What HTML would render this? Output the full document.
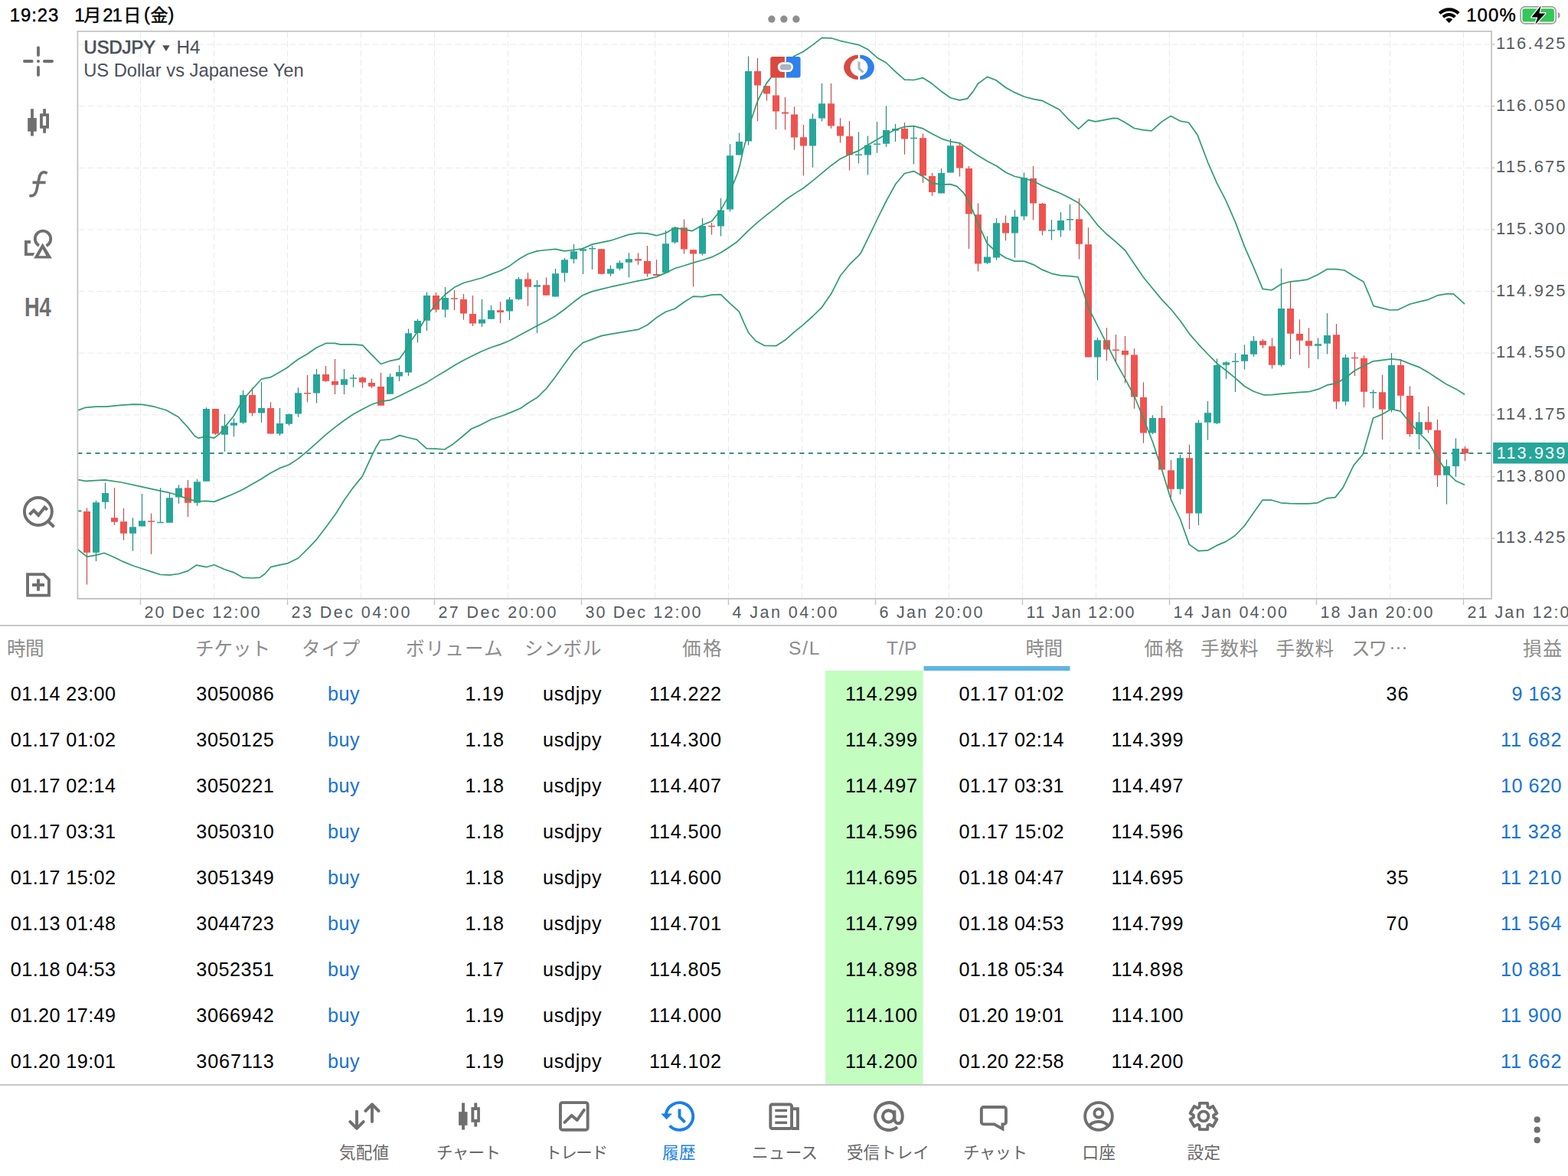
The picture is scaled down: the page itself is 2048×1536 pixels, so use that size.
<!DOCTYPE html><html><head><meta charset="utf-8"><title>MT5</title><style>
html,body{margin:0;padding:0;background:#fff}body{width:2048px;height:1536px;overflow:hidden}
svg{display:block}text{font-family:"Liberation Sans",sans-serif}
text.j{font-family:"Liberation Sans","Noto Sans CJK JP",sans-serif}
</style></head><body>
<svg width="2048" height="1536" viewBox="0 0 2048 1536">
<rect width="2048" height="1536" fill="#fff"/>
<clipPath id="cc"><rect x="101.4" y="40.9" width="1846.6999999999998" height="741.1"/></clipPath>
<g stroke="#e9e9e9" stroke-width="1" stroke-dasharray="8 4" fill="none">
<path d="M102.4 58H1948.1"/>
<path d="M102.4 138.7H1948.1"/>
<path d="M102.4 219.3H1948.1"/>
<path d="M102.4 300H1948.1"/>
<path d="M102.4 380.6H1948.1"/>
<path d="M102.4 461.2H1948.1"/>
<path d="M102.4 541.9H1948.1"/>
<path d="M102.4 622.6H1948.1"/>
<path d="M102.4 703.2H1948.1"/>
<path d="M183.5 41.9V782"/>
<path d="M279.5 41.9V782"/>
<path d="M375.5 41.9V782"/>
<path d="M471.5 41.9V782"/>
<path d="M567.5 41.9V782"/>
<path d="M663.5 41.9V782"/>
<path d="M759.5 41.9V782"/>
<path d="M855.5 41.9V782"/>
<path d="M951.5 41.9V782"/>
<path d="M1047.5 41.9V782"/>
<path d="M1143.5 41.9V782"/>
<path d="M1239.5 41.9V782"/>
<path d="M1335.5 41.9V782"/>
<path d="M1431.5 41.9V782"/>
<path d="M1527.5 41.9V782"/>
<path d="M1623.5 41.9V782"/>
<path d="M1719.5 41.9V782"/>
<path d="M1815.5 41.9V782"/>
<path d="M1911.5 41.9V782"/>
</g>
<g clip-path="url(#cc)">
<path d="M101.4 592H1948.1" stroke="#3a8f84" stroke-width="2" stroke-dasharray="6 5.5"/>
<path d="M125.5 653.8V733M137.5 630.8V664.6M173.5 676.3V719.8M185.5 645V687.6M209.5 637.2V683M221.5 643V682.7M233.5 633.3V657.7M257.5 626V660.7M269.5 532.3V628.8M293.5 541V589.8M305.5 546.4V570.2M317.5 509.7V553.8M341.5 499.1V551.9M365.5 533.1V568.9M377.5 540.2V555.8M389.5 506.2V544.7M413.5 481.9V526.6M449.5 482V514.9M461.5 489V505.7M509.5 488V514.8M521.5 477.2V498M533.5 429.4V490.9M545.5 416.7V447.6M557.5 381.6V432M581.5 375.1V414.8M629.5 391V426.9M641.5 398.8V416.7M665.5 388V418.1M677.5 362V391.9M701.5 365.9V434.9M725.5 350.9V387.4M737.5 337V367.9M749.5 319.1V343.9M761.5 323.4V358.1M773.5 321V351.9M797.5 346.4V360.7M809.5 340.2V352.9M821.5 330.2V362.6M869.5 301V356.2M881.5 295.9V318.3M917.5 285.1V333.4M941.5 259.1V308.6M953.5 188.2V276.5M965.5 173.4V202.5M977.5 73.6V189.4M1061.5 148.4V218.7M1073.5 108.9V158.5M1121.5 172.4V213.4M1133.5 177.5V228.5M1145.5 158.9V199.7M1157.5 138.2V191.7M1169.5 162V184.9M1193.5 165V214.4M1229.5 220.1V252.5M1241.5 181.3V225.5M1289.5 308.5V345M1301.5 285V339.7M1325.5 274.3V336.8M1337.5 225.5V287.4M1373.5 287V313.4M1385.5 277.2V309.5M1397.5 266.9V301.3M1433.5 441V496.7M1505.5 542.2V567M1541.5 594.1V646M1565.5 548.4V686M1577.5 524V574.8M1589.5 468.4V553.9M1601.5 471.9V495.1M1613.5 461.1V511.9M1625.5 450.2V482.4M1637.5 439.1V465.8M1673.5 350.7V478.7M1721.5 441.5V469.2M1733.5 409.3V462.5M1757.5 463V529.4M1793.5 508.9V533.3M1817.5 461.1V538.6M1853.5 538.2V587M1889.5 600.3V658.7M1901.5 572.4V622.8" stroke="#21897d" stroke-width="1.15" fill="none"/>
<path d="M113.5 663.6V763.6M149.5 637.2V685.7M161.5 664V705.6M197.5 670.4V723.8M245.5 626.9V674.9M281.5 534.1V567.9M329.5 506.4V543.5M353.5 525.3V566.5M401.5 490.1V525.2M425.5 477.9V498.7M437.5 469.1V515.1M473.5 492.1V506.5M485.5 494.6V506.8M497.5 486.7V529.7M569.5 382V407.9M593.5 379V405M605.5 384.1V417.7M617.5 386V426.1M653.5 394.3V422M689.5 356.2V399.7M713.5 362.6V385.7M785.5 325.3V358.5M833.5 330.4V345.8M845.5 321V361.6M857.5 339.2V360.1M893.5 286.5V331.4M905.5 326.3V374.4M929.5 291V306.6M989.5 76.1V158.2M1001.5 112.3V131.4M1013.5 101.5V168.9M1025.5 126.9V169.5M1037.5 139.2V195.7M1049.5 163V229.6M1085.5 108.9V167.8M1097.5 154.2V186.5M1109.5 158.1V222.6M1181.5 160.1V201.7M1205.5 174.4V238.8M1217.5 226.1V255.8M1253.5 187.3V230.4M1265.5 217.1V325.1M1277.5 265.5V354.4M1313.5 281.5V314.3M1349.5 217.1V287.6M1361.5 264.9V307.5M1409.5 259.1V338.4M1421.5 297.3V466.4M1445.5 428.3V471.3M1457.5 437.1V473.2M1469.5 439.1V500.6M1481.5 455.3V533.8M1493.5 499.2V578.7M1517.5 529.9V613.5M1529.5 601.1V649.8M1553.5 580.7V691M1649.5 443V454.7M1661.5 441.4V481.6M1685.5 368V469M1697.5 417.2V463.5M1709.5 428.3V480.7M1745.5 423V534.3M1769.5 460.1V490.9M1781.5 464.4V532.3M1805.5 489.4V574.3M1829.5 468.9V536.3M1841.5 504.4V570.4M1865.5 530.8V565.5M1877.5 548V635.9M1913.5 583.1V602.1" stroke="#c4484a" stroke-width="1.15" fill="none"/>
<path d="M205 682.5h9M457 493.9h9M769 324.8h9M1117 202.2h9M1141 188.2h9M1189 180.5h9M1369 301h9M1609 472.2h9M1789 512.7h9" stroke="#26a69a" stroke-width="1.5" fill="none"/>
<path d="M193 681h9M397 513.7h9M589 390h9M925 295.4h9M1453 457.2h9M1765 467.5h9" stroke="#ef5350" stroke-width="1.5" fill="none"/>
<path d="M121 656.2h9V721.8h-9zM133 644h9V655.8h-9zM169 688.2h9V696.8h-9zM181 680.2h9V687.6h-9zM217 650.3h9V682.7h-9zM229 637.4h9V649.5h-9zM253 629.2h9V656.8h-9zM265 534.1h9V628.8h-9zM289 556.2h9V567.7h-9zM301 552.3h9V555.8h-9zM313 516.1h9V551.9h-9zM337 532.9h9V539.6h-9zM361 553h9V566.5h-9zM373 541.1h9V553.8h-9zM385 513.2h9V540.6h-9zM409 489.1h9V513.6h-9zM445 495.2h9V502.7h-9zM505 492.2h9V514.8h-9zM517 486h9V491.6h-9zM529 435.3h9V486.6h-9zM541 419h9V434.9h-9zM553 386h9V418.7h-9zM577 389h9V404.6h-9zM625 417.3h9V422.6h-9zM637 405.2h9V416.7h-9zM661 391.3h9V406.6h-9zM673 364.4h9V390.7h-9zM697 372.2h9V374.7h-9zM721 357.3h9V387.4h-9zM733 339.2h9V356.6h-9zM745 328.2h9V338.6h-9zM757 325.3h9V327.7h-9zM793 351.3h9V357.5h-9zM805 343.3h9V350.7h-9zM817 338.2h9V342.7h-9zM865 318.3h9V356.2h-9zM877 297.3h9V316.5h-9zM913 294.9h9V331.4h-9zM937 274.4h9V295.5h-9zM949 203.2h9V273.5h-9zM961 185.1h9V202.5h-9zM973 93.1h9V184.5h-9zM1057 155.2h9V190.6h-9zM1069 135.3h9V154.6h-9zM1129 189.4h9V202.5h-9zM1153 170.1h9V187.8h-9zM1165 168.1h9V170.7h-9zM1225 226.1h9V252.5h-9zM1237 190.2h9V225.5h-9zM1285 335.4h9V343.6h-9zM1297 291.3h9V336.4h-9zM1321 283.1h9V304.6h-9zM1333 232.3h9V282.5h-9zM1381 288h9V300.7h-9zM1393 286h9V287.6h-9zM1429 444.3h9V466.4h-9zM1501 546.1h9V565.6h-9zM1537 598.2h9V638.7h-9zM1561 552.3h9V670.6h-9zM1573 539.3h9V551.8h-9zM1585 477.1h9V552.7h-9zM1597 473.2h9V476.8h-9zM1621 463.1h9V471.7h-9zM1633 445.3h9V462.7h-9zM1669 403h9V476.8h-9zM1717 449.2h9V451.8h-9zM1729 438.1h9V448.7h-9zM1753 467h9V524.6h-9zM1813 477.1h9V534.7h-9zM1849 551.3h9V566.9h-9zM1885 609.1h9V620.8h-9zM1897 586.1h9V608.9h-9z" fill="#26a69a"/>
<path d="M109 668h9V721.8h-9zM145 676.3h9V681.8h-9zM157 681.2h9V696.8h-9zM241 637.2h9V656.8h-9zM277 534.1h9V566.5h-9zM325 516.1h9V539.6h-9zM349 533.1h9V566.5h-9zM421 489.1h9V497.7h-9zM433 498.1h9V502.7h-9zM469 493.2h9V499.6h-9zM481 500h9V504.8h-9zM493 505h9V529.7h-9zM565 386h9V404.6h-9zM601 391.1h9V409.5h-9zM613 410.1h9V422.6h-9zM649 405.2h9V407.9h-9zM685 364.4h9V374.7h-9zM709 372.2h9V385.7h-9zM781 325.3h9V357.7h-9zM829 338.2h9V340.5h-9zM841 341.1h9V357.5h-9zM853 358.1h9V360.1h-9zM889 297.3h9V325.6h-9zM901 326.3h9V331.4h-9zM985 93.1h9V111.5h-9zM997 112.3h9V122.6h-9zM1009 124.4h9V145.5h-9zM1021 146.4h9V148.4h-9zM1033 149.4h9V179.6h-9zM1045 179.2h9V190.6h-9zM1081 135.3h9V164.5h-9zM1093 165.1h9V177.5h-9zM1105 178.1h9V202.5h-9zM1177 168.1h9V181.6h-9zM1201 180.2h9V229.5h-9zM1213 230h9V250.9h-9zM1249 190.2h9V219.6h-9zM1261 220.1h9V279.6h-9zM1273 280.2h9V344.6h-9zM1309 291.3h9V304.6h-9zM1345 232.9h9V265.5h-9zM1357 266.1h9V301.6h-9zM1405 286.2h9V318.8h-9zM1417 319.2h9V466.4h-9zM1441 444.3h9V456.6h-9zM1465 458h9V463.5h-9zM1477 463.5h9V518.6h-9zM1489 519.1h9V565.6h-9zM1513 546.1h9V613.5h-9zM1525 614.2h9V638.7h-9zM1549 598.2h9V670.6h-9zM1645 445.3h9V450.8h-9zM1657 452.2h9V476.8h-9zM1681 403h9V435.7h-9zM1693 436.1h9V444.7h-9zM1705 445.3h9V451.8h-9zM1741 437.2h9V524.6h-9zM1777 468h9V511.8h-9zM1801 512.2h9V534.7h-9zM1825 477.1h9V516.7h-9zM1837 517.1h9V566.9h-9zM1861 551.3h9V561.6h-9zM1873 562h9V620.8h-9zM1909 586.1h9V592.3h-9z" fill="#ef5350"/>
<path d="M101 667.5h5.5" stroke="#26a69a" stroke-width="2"/>
<path d="M100 536.6L111.7 532.3L125.4 531.2L139 531.2L158.6 529.2L174.2 528.2L186 528.4L201.6 531.2L217.2 535.7L232.8 544.5L244.5 557.1L254.3 569.5L259.2 572.2L269.5 570.2L279.7 572.2L287.5 565.9L293.4 558.1L305.1 543.5L317.4 522L329.5 508.3L341.4 495.2L353.5 492.7L365.4 485.9L375.4 480L380 476.3L389.5 469.3L401.5 462.3L413.5 454L425.5 448.4L437.5 448.4L444 449.8L461.5 449.8L473.5 450.9L485.5 463.4L497.5 475.5L509.5 471.3L521.5 468.9L528.4 459.5L533.5 449.9L545.4 433.3L557.5 412.8L569.5 397.2L581.6 384.5L593.5 375.3L605.6 369.5L617.5 366.3L629.4 363L641.5 358.1L653.4 353.8L665.5 347.4L677.5 338.6L689.6 331.8L701.5 327.9L713.6 326.5L725.5 325.3L737.4 327.9L749.5 326.5L761.4 324.5L773.6 319.1L785.5 316.7L797.6 314.2L809.5 310.3L821.4 306.4L833.5 304.4L845.4 304.8L857.5 307.7L869.5 304.4L881.5 297.4L893.6 299.8L904 301.7L917.4 293.9L929.5 289L941.4 274.4L948.8 261.3L953.5 250.2L958.2 239.1L963.4 226.2L966.4 215.6L970.5 196.9L974 184L977.5 169.9L981 157L989.5 131.8L1001.4 108.4L1008.4 99.6L1026 82L1037.5 73.2L1049.5 67.3L1061.6 58.6L1073.5 49.4L1085.6 49.8L1097.5 53.3L1109.4 56L1121.5 58.6L1133.4 64.4L1145.5 75.2L1157.5 82L1169.6 93.7L1181.5 104.1L1193.4 104.5L1205.5 101.7L1217.4 109.3L1220 111.6L1229.4 119.2L1241.4 127.7L1253.4 130.9L1263.4 128.9L1271.6 118.6L1277.4 109.2L1289.5 100.4L1300.9 104.8L1313.8 114.5L1325.5 120.9L1337.8 126.2L1349.5 129.4L1361.8 131.7L1373.5 137.9L1383.5 143L1395.8 156.1L1408.7 168.4L1421.6 156.7L1430.9 158.8L1442.7 156.7L1454.4 154.3L1460 154.7L1469.5 160L1481.4 167.5L1493.5 169.8L1504 170.8L1517.3 159.1L1529 151.6L1541.4 158.1L1552.5 160L1564.2 176.6L1577.5 211.8L1589.4 239.1L1601.5 262.6L1613.4 289.9L1625.5 322.1L1637.5 349.3L1649.2 377.4L1661 379L1673.5 371L1685.5 367.8L1697.3 366.6L1707.8 365.1L1720.7 358.9L1733.6 351.6L1745.3 351.6L1755.9 353L1768.8 361L1781 368L1787.5 383.3L1794 399.7L1805 402.3L1815.6 405L1826.2 404.6L1841.4 397.2L1853.6 394.1L1865.5 391.3L1877.4 385.9L1889.5 383.9L1898.3 383.9L1904 388.8L1913 397.2" stroke="#2e9e6e" stroke-width="1.7" fill="none" stroke-linejoin="round"/>
<path d="M100 626.1L111.7 628.4L137.1 626.9L158.6 630L185.5 635.9L209.4 641.1L221.5 643.7L233.4 647L245.5 651.9L257.4 654.8L269.5 654.4L279.7 655.4L293.4 649.9L305.1 645L317.4 639.2L329.5 632.3L341.4 625.5L353.5 617.7L365.4 611.4L377.5 607L389.5 599.1L401.4 589.4L413.5 578.6L425.4 567.9L437.5 558.1L449.4 549.3L461.5 541L473.4 534.5L485.5 528.3L497.5 524.3L509.5 522.7L521.4 517.3L533.5 511.3L545.4 505.5L557.5 499.4L569.5 491.9L581.6 484.7L593.5 477.3L605.6 470.4L617.5 464.6L629.4 458.7L641.5 453.8L653.4 449.9L665.5 445L677.5 438.6L689.6 432L701.5 425.5L713.6 419.6L725.5 412.8L737.4 404L749.5 394.3L761.4 385.5L773.6 380.6L785.5 377.7L797.6 374.7L809.5 372.2L821.4 369.5L833.5 366.9L845.4 364.6L857.5 361.6L869.6 356.4L881.5 350.5L893.6 347L905.5 343.1L917.4 339.8L929.5 335.9L941.4 330L953.5 322.3L963.4 315.2L977.5 301.2L989.2 290.6L1001.5 280.7L1013.5 271.3L1025.5 261.3L1037.5 253.1L1049.6 245.5L1061.5 236.1L1073.6 226.2L1085.6 216.2L1097.6 207.4L1109.6 201.6L1121.6 196.9L1133.6 189.3L1145.7 182.2L1157.6 175.2L1169.7 169.3L1181.5 165.6L1193.4 164.6L1205.5 167.9L1217.4 174.8L1231.7 181.9L1241.4 184.8L1253.4 186.8L1263.4 193.6L1275 201.8L1289.5 210.6L1302 217L1313.8 225.2L1325.5 230.5L1337.8 233.2L1349.6 236.5L1361.5 242.7L1373.6 247.9L1385.5 252.8L1397.4 258.7L1409.5 265.5L1421.4 278.2L1433.4 293.8L1445 305.5L1456.8 315.3L1469.5 327L1481.4 344.6L1493.5 362.2L1505.4 376.8L1517.5 391.4L1529.5 404L1541.4 418.7L1553.5 436.1L1565.5 449.8L1577.5 462.5L1589.5 474.6L1601.5 484L1613.5 493.8L1625.5 504.5L1637.5 511.3L1650.5 515.8L1661.5 515.6L1673.5 514.3L1685.5 513.3L1697.5 512.3L1709.5 511.7L1721.5 508.4L1733.5 502.9L1745.5 500.6L1757.5 493.4L1769.5 484L1781.5 477.7L1793.6 471.8L1805.5 470.4L1817.4 468.9L1829.5 470.2L1841.4 475.1L1853.6 479.6L1865.5 486.4L1877.4 494.3L1889.5 502.1L1901.4 507.9L1913 515.2" stroke="#2e9e6e" stroke-width="1.7" fill="none" stroke-linejoin="round"/>
<path d="M100 716.3L113.5 727.1L125.4 725.1L136.1 722.2L149.4 728L161.5 733.9L173.4 738.8L185.5 742.7L197.5 746.6L209.4 750.5L221.5 751.1L233.4 749.5L245.5 745.6L256.3 738.2L269.5 740.7L279.7 737.8L293.4 743.7L305.1 747.6L317.4 754.4L329.5 755L339.3 754.4L346.1 749.5L353.5 740.7L365.4 737.8L375.4 735.9L389.5 729L401.4 717.3L413.5 704.6L425.4 689L437.5 672.4L440 668.8L449.4 653.5L461.1 637.1L473.4 621.9L479.8 607.8L486.9 592.6L491.6 583.2L496.8 575L510.3 573.8L522 568.6L532.6 571.5L544.3 574.1L557.2 585.8L568.9 586.1L580.6 587L592.3 579.7L604.1 570L615.8 560L627.5 555.1L641.6 547.8L656.8 542.8L668.5 538.1L680 533.2L689.6 526.5L701.5 519.3L713.6 507.5L725.5 491.9L737.4 475.3L749.5 458.7L761.4 447.6L773.6 443.1L785.5 438.6L797.6 436.3L809.5 434.3L821.4 432.3L833.5 430.4L845.4 424.5L857.5 414.8L869.6 407.2L881.5 403.3L893.6 394.5L905.5 387.1L917.4 387.7L929.5 385.1L941.4 384.7L953.6 396.4L965.5 407.2L971.3 420.9L977.6 434.5L987 445.3L998.7 451.5L1013.5 451.7L1025.4 444.3L1037.5 433.6L1049.5 423.8L1061.6 413L1073.5 401.3L1085.6 383.8L1097.5 360.3L1109.4 345.7L1121.5 333.9L1124.6 330L1133.6 311.7L1145.7 286.5L1157.6 262.5L1169.7 240.5L1181.5 226.5L1193.4 223.6L1205.5 230.4L1217.4 239.2L1229.5 241.2L1241.4 240.6L1249.8 243.4L1258.6 251.8L1265.6 263.6L1277.5 291.9L1289.4 318.2L1301.5 329L1313.4 336.8L1325.5 341.1L1337.5 341.1L1349.6 345.6L1361.5 352.4L1373.6 357.3L1385.5 359.8L1397.4 360.6L1408 361.8L1413.8 377.8L1421.4 401.3L1433.5 425.4L1445.5 448.8L1457.5 473.2L1469.5 494.7L1481.5 517.2L1493.5 546.5L1505.5 577L1517.5 613.5L1529.5 652.7L1541.5 678L1553.3 711.1L1565.4 719.7L1577.3 718.9L1589.3 712.4L1601.2 707.4L1613.2 699.5L1625.1 687.2L1637.1 670.1L1649 653.2L1661.1 653.2L1673 656.8L1685 657.6L1696.9 657.9L1708.9 657.9L1720.8 656.8L1732.8 650.9L1744 649.6L1754.3 636.6L1768 607.9L1780 593.5L1787 569.5L1793.6 546L1805.5 541.1L1817.4 534.3L1829.5 537.2L1841.4 551.9L1853.6 565.5L1865.5 577.3L1877.4 597.8L1889.5 616.3L1901.4 628L1913 633.3" stroke="#2e9e6e" stroke-width="1.7" fill="none" stroke-linejoin="round"/>
</g>
<path d="M101.4 40.9H1948.1V782H101.4z" stroke="#c4c4c4" stroke-width="1.8" fill="none"/>
<g stroke="#c4c4c4" stroke-width="1.5">
<path d="M183.5 782v8"/>
<path d="M375.5 782v8"/>
<path d="M567.5 782v8"/>
<path d="M759.5 782v8"/>
<path d="M951.5 782v8"/>
<path d="M1143.5 782v8"/>
<path d="M1335.5 782v8"/>
<path d="M1527.5 782v8"/>
<path d="M1719.5 782v8"/>
<path d="M1911.5 782v8"/>
<path d="M1948.1 58h4"/>
<path d="M1948.1 138.7h4"/>
<path d="M1948.1 219.3h4"/>
<path d="M1948.1 300h4"/>
<path d="M1948.1 380.6h4"/>
<path d="M1948.1 461.2h4"/>
<path d="M1948.1 541.9h4"/>
<path d="M1948.1 622.6h4"/>
<path d="M1948.1 703.2h4"/>
</g>
<text x="1954" y="64.1" font-size="22" fill="#565b61" textLength="90.6" lengthAdjust="spacing">116.425</text>
<text x="1954" y="144.8" font-size="22" fill="#565b61" textLength="90.6" lengthAdjust="spacing">116.050</text>
<text x="1954" y="225.4" font-size="22" fill="#565b61" textLength="90.6" lengthAdjust="spacing">115.675</text>
<text x="1954" y="306.1" font-size="22" fill="#565b61" textLength="90.6" lengthAdjust="spacing">115.300</text>
<text x="1954" y="386.7" font-size="22" fill="#565b61" textLength="90.6" lengthAdjust="spacing">114.925</text>
<text x="1954" y="467.4" font-size="22" fill="#565b61" textLength="90.6" lengthAdjust="spacing">114.550</text>
<text x="1954" y="548" font-size="22" fill="#565b61" textLength="90.6" lengthAdjust="spacing">114.175</text>
<text x="1954" y="628.7" font-size="22" fill="#565b61" textLength="90.6" lengthAdjust="spacing">113.800</text>
<text x="1954" y="709.3" font-size="22" fill="#565b61" textLength="90.6" lengthAdjust="spacing">113.425</text>
<rect x="1950.1" y="578" width="98" height="27.5" fill="#26a69a"/>
<text x="1954.8" y="599" font-size="21.6" fill="#fff" textLength="89.5" lengthAdjust="spacing">113.939</text>
<text x="188.5" y="806.5" font-size="21.5" fill="#565b61" textLength="151" lengthAdjust="spacing">20 Dec 12:00</text>
<text x="380.5" y="806.5" font-size="21.5" fill="#565b61" textLength="155" lengthAdjust="spacing">23 Dec 04:00</text>
<text x="572.5" y="806.5" font-size="21.5" fill="#565b61" textLength="154" lengthAdjust="spacing">27 Dec 20:00</text>
<text x="764.5" y="806.5" font-size="21.5" fill="#565b61" textLength="151" lengthAdjust="spacing">30 Dec 12:00</text>
<text x="956.5" y="806.5" font-size="21.5" fill="#565b61" textLength="137" lengthAdjust="spacing">4 Jan 04:00</text>
<text x="1148.5" y="806.5" font-size="21.5" fill="#565b61" textLength="135" lengthAdjust="spacing">6 Jan 20:00</text>
<text x="1340.5" y="806.5" font-size="21.5" fill="#565b61" textLength="141" lengthAdjust="spacing">11 Jan 12:00</text>
<text x="1532.5" y="806.5" font-size="21.5" fill="#565b61" textLength="148.5" lengthAdjust="spacing">14 Jan 04:00</text>
<text x="1724.5" y="806.5" font-size="21.5" fill="#565b61" textLength="147" lengthAdjust="spacing">18 Jan 20:00</text>
<text x="1916.5" y="806.5" font-size="21.5" fill="#565b61" textLength="147" lengthAdjust="spacing">21 Jan 12:00</text>
<text x="109.5" y="69.8" font-size="23" fill="#4b4f58" textLength="93.6" lengthAdjust="spacingAndGlyphs" stroke="#4b4f58" stroke-width="0.7">USDJPY</text>
<path d="M212.2 59.2h9.5l-4.75 7.9z" fill="#4b4f58"/>
<text x="230.6" y="69.8" font-size="24.1" fill="#4b4f58" textLength="31" lengthAdjust="spacingAndGlyphs">H4</text>
<text x="109.2" y="99.7" font-size="24.3" fill="#4b4f58" textLength="287.5" lengthAdjust="spacingAndGlyphs">US Dollar vs Japanese Yen</text>
<path d="M0 817H2048" stroke="#c8c8c8" stroke-width="2"/>
<path d="M0 1417H2048" stroke="#c8c8c8" stroke-width="2"/>
<g>
<path d="M1009.2 74.1H1024.9V101.5H1009.2a3 3 0 0 1-3-3V77.1a3 3 0 0 1 3-3z" fill="#d9493f"/>
<path d="M1026.9 74.1H1042.6a3 3 0 0 1 3 3V98.5a3 3 0 0 1-3 3H1026.9z" fill="#2f80ed"/>
<rect x="1015.7" y="81.2" width="20.3" height="12.8" rx="6.4" fill="#fff"/>
<rect x="1018.6" y="84" width="15" height="7.5" rx="3.75" fill="#a9b5c0"/>
</g>
<g>
<path d="M1120.8 71.8A18.7 16.1 0 0 0 1120.8 104V99.7A12.6 12 0 0 1 1120.8 76.1z" fill="#d9493f"/>
<path d="M1123.2 71.8A18.7 16.1 0 0 1 1123.2 104V99.7A12.6 12 0 0 0 1123.2 76.1z" fill="#2f80ed"/>
<path d="M1122 80.5V89.5L1127.5 94.5" stroke="#a9b5c0" stroke-width="3" fill="none"/>
</g>
<text x="12.7" y="27.6" font-size="23.9" fill="#000" textLength="63.6" lengthAdjust="spacing" stroke="#000" stroke-width="0.45">19:23</text>
<text x="97.3" y="27.6" font-size="23.9" fill="#000" stroke="#000" stroke-width="0.45">1</text>
<text class="j" x="109.25" y="28.3" font-size="23" fill="#000" stroke="#000" stroke-width="0.45">月</text>
<text x="134.2" y="27.6" font-size="23.9" fill="#000" textLength="25.6" lengthAdjust="spacing" stroke="#000" stroke-width="0.45">21</text>
<text class="j" x="161.25" y="28.3" font-size="23" fill="#000" stroke="#000" stroke-width="0.45">日</text>
<text x="188" y="27.2" font-size="23.5" fill="#000" stroke="#000" stroke-width="0.45">(</text>
<text class="j" x="196.5" y="28.3" font-size="23" fill="#000" stroke="#000" stroke-width="0.45">金</text>
<text x="219.6" y="27.2" font-size="23.5" fill="#000" stroke="#000" stroke-width="0.45">)</text>
<circle cx="1007.9" cy="25" r="4.7" fill="#8e8e8e"/>
<circle cx="1023.9" cy="25" r="4.7" fill="#8e8e8e"/>
<circle cx="1039.9" cy="25" r="4.7" fill="#8e8e8e"/>
<g fill="none" stroke="#000" stroke-width="4.1">
<path d="M1880.3 17.5A17.5 17.5 0 0 1 1905.1 17.5"/>
<path d="M1885 22.2A10.9 10.9 0 0 1 1900.4 22.2"/>
</g>
<path d="M1892.7 29.9L1888.2 25.4A6.4 6.4 0 0 1 1897.2 25.4z" fill="#000"/>
<text x="1915.2" y="27.5" font-size="23.9" fill="#000" textLength="64.5" lengthAdjust="spacing" stroke="#000" stroke-width="0.45">100%</text>
<rect x="1986.1" y="8.9" width="46.1" height="22" rx="5.6" fill="none" stroke="#a39da0" stroke-width="1.7"/>
<rect x="1988.4" y="11.2" width="41.5" height="17.4" rx="3.2" fill="#34c759"/>
<path d="M2034.9 15.8a4.4 4.4 0 0 1 0 8.2z" fill="#a39da0"/>
<path d="M2012.6 7.6L2000.4 22.4H2008.4L2005.2 32L2018.4 17.4H2010.4z" fill="#000" stroke="#fff" stroke-width="2.6" paint-order="stroke" stroke-linejoin="round"/>
<g stroke="#6f6f6f" stroke-width="3.8" stroke-linecap="round" fill="none">
<path d="M50 62.1V72M50 87.9V98.1M31.9 80H41.8M57.9 80H68.1"/>
</g>
<circle cx="50" cy="80" r="2.1" fill="#6f6f6f"/>
<g fill="#6f6f6f"><rect x="40.1" y="142.2" width="3.8" height="35.4"/><rect x="36.2" y="154.1" width="11.6" height="17.6"/>
<rect x="56.2" y="142.2" width="3.8" height="31.6"/><rect x="52.1" y="148.3" width="11.9" height="19.5"/></g>
<rect x="55.9" y="151.9" width="4.2" height="12.1" fill="#fff"/>
<path d="M61.6 226.4C57 223.6 52.8 224.8 51.3 231.5L47.8 248.5C46.5 254.6 42.5 256.9 38.4 255.3M42.5 238.4H59.6" stroke="#6f6f6f" stroke-width="3.7" fill="none"/>
<g stroke="#6f6f6f" stroke-width="3.8" fill="none"><circle cx="56" cy="311.9" r="10.2"/><path d="M40 316H33.9V332.1H45.5"/></g>
<path d="M55.6 312.6L39.8 340.2H71.6z" fill="#fff"/>
<path d="M55.6 317.6L44.2 337.6H67.9zM55.6 325.3L60.4 334.2H50.7z" fill="#6f6f6f" fill-rule="evenodd"/>
<text x="31.9" y="412.7" font-size="34.2" fill="#6f6f6f" font-weight="bold" textLength="34.9" lengthAdjust="spacingAndGlyphs">H4</text>
<g stroke="#6f6f6f" stroke-width="3.9" fill="none"><circle cx="49.9" cy="668" r="18"/><path d="M62.8 680.7L70.6 688.2" stroke-width="4.2"/><path d="M38.4 672.2L44.1 666.6L50.2 673L58.3 662.8L61.8 666" stroke-width="4.1"/></g>
<g stroke="#6f6f6f" stroke-width="3.9" fill="none"><path d="M36.05 750.15H57.1L63.95 757V777.65H36.05z"/><path d="M50 756.2V771.8M42 764H58"/></g>
<rect x="1078" y="876" width="127.5" height="540" fill="#c3fdc0"/>
<rect x="1206.5" y="870" width="191" height="6" fill="#5fb4e4"/>
<text class="j" x="9" y="856" font-size="24.6" fill="#8c8c8c" textLength="48.5" lengthAdjust="spacing">時間</text>
<text class="j" x="255" y="856" font-size="24.6" fill="#8c8c8c" textLength="98" lengthAdjust="spacing">チケット</text>
<text class="j" x="394" y="856" font-size="24.6" fill="#8c8c8c" textLength="76" lengthAdjust="spacing">タイプ</text>
<text class="j" x="530" y="856" font-size="24.6" fill="#8c8c8c" textLength="126.5" lengthAdjust="spacing">ボリューム</text>
<text class="j" x="685" y="856" font-size="24.6" fill="#8c8c8c" textLength="100.5" lengthAdjust="spacing">シンボル</text>
<text class="j" x="891" y="856" font-size="24.6" fill="#8c8c8c" textLength="51.5" lengthAdjust="spacing">価格</text>
<text x="1030" y="855.2" font-size="24.6" fill="#8c8c8c" textLength="40.5" lengthAdjust="spacing">S/L</text>
<text x="1158" y="855.2" font-size="24.6" fill="#8c8c8c" textLength="39.5" lengthAdjust="spacing">T/P</text>
<text class="j" x="1339.6" y="856" font-size="24.6" fill="#8c8c8c" textLength="48.5" lengthAdjust="spacing">時間</text>
<text class="j" x="1494.5" y="856" font-size="24.6" fill="#8c8c8c" textLength="51.5" lengthAdjust="spacing">価格</text>
<text class="j" x="1568" y="856" font-size="24.6" fill="#8c8c8c" textLength="75.5" lengthAdjust="spacing">手数料</text>
<text class="j" x="1666.5" y="856" font-size="24.6" fill="#8c8c8c" textLength="75.5" lengthAdjust="spacing">手数料</text>
<text class="j" x="1765" y="856" font-size="24.6" fill="#8c8c8c" textLength="47" lengthAdjust="spacing">スワ</text>
<circle cx="1818.5" cy="846.5" r="1.5" fill="#8c8c8c"/>
<circle cx="1826.5" cy="846.5" r="1.5" fill="#8c8c8c"/>
<circle cx="1834.5" cy="846.5" r="1.5" fill="#8c8c8c"/>
<text class="j" x="1989" y="856" font-size="24.6" fill="#8c8c8c" textLength="51" lengthAdjust="spacing">損益</text>
<text x="13.8" y="914.5" font-size="25.2" fill="#000" textLength="137.2" lengthAdjust="spacing">01.14 23:00</text>
<text x="256.3" y="914.5" font-size="25.2" fill="#000" textLength="101.5" lengthAdjust="spacing">3050086</text>
<text x="428" y="914.5" font-size="25.2" fill="#1672d6" textLength="41.5" lengthAdjust="spacing">buy</text>
<text x="607.6" y="914.5" font-size="25.2" fill="#000" textLength="50.5" lengthAdjust="spacing">1.19</text>
<text x="709" y="914.5" font-size="25.2" fill="#000" textLength="76.5" lengthAdjust="spacing">usdjpy</text>
<text x="848.1" y="914.5" font-size="25.2" fill="#000" textLength="94" lengthAdjust="spacing">114.222</text>
<text x="1104" y="914.5" font-size="25.2" fill="#000" textLength="94" lengthAdjust="spacing">114.299</text>
<text x="1252.4" y="914.5" font-size="25.2" fill="#000" textLength="137.2" lengthAdjust="spacing">01.17 01:02</text>
<text x="1451.5" y="914.5" font-size="25.2" fill="#000" textLength="94" lengthAdjust="spacing">114.299</text>
<text x="1810.6" y="914.5" font-size="25.2" fill="#000" textLength="29" lengthAdjust="spacing">36</text>
<text x="1974.5" y="914.5" font-size="25.2" fill="#1672d6" textLength="65" lengthAdjust="spacing">9 163</text>
<text x="13.8" y="974.5" font-size="25.2" fill="#000" textLength="137.2" lengthAdjust="spacing">01.17 01:02</text>
<text x="256.3" y="974.5" font-size="25.2" fill="#000" textLength="101.5" lengthAdjust="spacing">3050125</text>
<text x="428" y="974.5" font-size="25.2" fill="#1672d6" textLength="41.5" lengthAdjust="spacing">buy</text>
<text x="607.6" y="974.5" font-size="25.2" fill="#000" textLength="50.5" lengthAdjust="spacing">1.18</text>
<text x="709" y="974.5" font-size="25.2" fill="#000" textLength="76.5" lengthAdjust="spacing">usdjpy</text>
<text x="848.1" y="974.5" font-size="25.2" fill="#000" textLength="94" lengthAdjust="spacing">114.300</text>
<text x="1104" y="974.5" font-size="25.2" fill="#000" textLength="94" lengthAdjust="spacing">114.399</text>
<text x="1252.4" y="974.5" font-size="25.2" fill="#000" textLength="137.2" lengthAdjust="spacing">01.17 02:14</text>
<text x="1451.5" y="974.5" font-size="25.2" fill="#000" textLength="94" lengthAdjust="spacing">114.399</text>
<text x="1960" y="974.5" font-size="25.2" fill="#1672d6" textLength="79.5" lengthAdjust="spacing">11 682</text>
<text x="13.8" y="1034.5" font-size="25.2" fill="#000" textLength="137.2" lengthAdjust="spacing">01.17 02:14</text>
<text x="256.3" y="1034.5" font-size="25.2" fill="#000" textLength="101.5" lengthAdjust="spacing">3050221</text>
<text x="428" y="1034.5" font-size="25.2" fill="#1672d6" textLength="41.5" lengthAdjust="spacing">buy</text>
<text x="607.6" y="1034.5" font-size="25.2" fill="#000" textLength="50.5" lengthAdjust="spacing">1.18</text>
<text x="709" y="1034.5" font-size="25.2" fill="#000" textLength="76.5" lengthAdjust="spacing">usdjpy</text>
<text x="848.1" y="1034.5" font-size="25.2" fill="#000" textLength="94" lengthAdjust="spacing">114.407</text>
<text x="1104" y="1034.5" font-size="25.2" fill="#000" textLength="94" lengthAdjust="spacing">114.497</text>
<text x="1252.4" y="1034.5" font-size="25.2" fill="#000" textLength="137.2" lengthAdjust="spacing">01.17 03:31</text>
<text x="1451.5" y="1034.5" font-size="25.2" fill="#000" textLength="94" lengthAdjust="spacing">114.497</text>
<text x="1960" y="1034.5" font-size="25.2" fill="#1672d6" textLength="79.5" lengthAdjust="spacing">10 620</text>
<text x="13.8" y="1094.5" font-size="25.2" fill="#000" textLength="137.2" lengthAdjust="spacing">01.17 03:31</text>
<text x="256.3" y="1094.5" font-size="25.2" fill="#000" textLength="101.5" lengthAdjust="spacing">3050310</text>
<text x="428" y="1094.5" font-size="25.2" fill="#1672d6" textLength="41.5" lengthAdjust="spacing">buy</text>
<text x="607.6" y="1094.5" font-size="25.2" fill="#000" textLength="50.5" lengthAdjust="spacing">1.18</text>
<text x="709" y="1094.5" font-size="25.2" fill="#000" textLength="76.5" lengthAdjust="spacing">usdjpy</text>
<text x="848.1" y="1094.5" font-size="25.2" fill="#000" textLength="94" lengthAdjust="spacing">114.500</text>
<text x="1104" y="1094.5" font-size="25.2" fill="#000" textLength="94" lengthAdjust="spacing">114.596</text>
<text x="1252.4" y="1094.5" font-size="25.2" fill="#000" textLength="137.2" lengthAdjust="spacing">01.17 15:02</text>
<text x="1451.5" y="1094.5" font-size="25.2" fill="#000" textLength="94" lengthAdjust="spacing">114.596</text>
<text x="1960" y="1094.5" font-size="25.2" fill="#1672d6" textLength="79.5" lengthAdjust="spacing">11 328</text>
<text x="13.8" y="1154.5" font-size="25.2" fill="#000" textLength="137.2" lengthAdjust="spacing">01.17 15:02</text>
<text x="256.3" y="1154.5" font-size="25.2" fill="#000" textLength="101.5" lengthAdjust="spacing">3051349</text>
<text x="428" y="1154.5" font-size="25.2" fill="#1672d6" textLength="41.5" lengthAdjust="spacing">buy</text>
<text x="607.6" y="1154.5" font-size="25.2" fill="#000" textLength="50.5" lengthAdjust="spacing">1.18</text>
<text x="709" y="1154.5" font-size="25.2" fill="#000" textLength="76.5" lengthAdjust="spacing">usdjpy</text>
<text x="848.1" y="1154.5" font-size="25.2" fill="#000" textLength="94" lengthAdjust="spacing">114.600</text>
<text x="1104" y="1154.5" font-size="25.2" fill="#000" textLength="94" lengthAdjust="spacing">114.695</text>
<text x="1252.4" y="1154.5" font-size="25.2" fill="#000" textLength="137.2" lengthAdjust="spacing">01.18 04:47</text>
<text x="1451.5" y="1154.5" font-size="25.2" fill="#000" textLength="94" lengthAdjust="spacing">114.695</text>
<text x="1810.6" y="1154.5" font-size="25.2" fill="#000" textLength="29" lengthAdjust="spacing">35</text>
<text x="1960" y="1154.5" font-size="25.2" fill="#1672d6" textLength="79.5" lengthAdjust="spacing">11 210</text>
<text x="13.8" y="1214.5" font-size="25.2" fill="#000" textLength="137.2" lengthAdjust="spacing">01.13 01:48</text>
<text x="256.3" y="1214.5" font-size="25.2" fill="#000" textLength="101.5" lengthAdjust="spacing">3044723</text>
<text x="428" y="1214.5" font-size="25.2" fill="#1672d6" textLength="41.5" lengthAdjust="spacing">buy</text>
<text x="607.6" y="1214.5" font-size="25.2" fill="#000" textLength="50.5" lengthAdjust="spacing">1.18</text>
<text x="709" y="1214.5" font-size="25.2" fill="#000" textLength="76.5" lengthAdjust="spacing">usdjpy</text>
<text x="848.1" y="1214.5" font-size="25.2" fill="#000" textLength="94" lengthAdjust="spacing">114.701</text>
<text x="1104" y="1214.5" font-size="25.2" fill="#000" textLength="94" lengthAdjust="spacing">114.799</text>
<text x="1252.4" y="1214.5" font-size="25.2" fill="#000" textLength="137.2" lengthAdjust="spacing">01.18 04:53</text>
<text x="1451.5" y="1214.5" font-size="25.2" fill="#000" textLength="94" lengthAdjust="spacing">114.799</text>
<text x="1810.6" y="1214.5" font-size="25.2" fill="#000" textLength="29" lengthAdjust="spacing">70</text>
<text x="1960" y="1214.5" font-size="25.2" fill="#1672d6" textLength="79.5" lengthAdjust="spacing">11 564</text>
<text x="13.8" y="1274.5" font-size="25.2" fill="#000" textLength="137.2" lengthAdjust="spacing">01.18 04:53</text>
<text x="256.3" y="1274.5" font-size="25.2" fill="#000" textLength="101.5" lengthAdjust="spacing">3052351</text>
<text x="428" y="1274.5" font-size="25.2" fill="#1672d6" textLength="41.5" lengthAdjust="spacing">buy</text>
<text x="607.6" y="1274.5" font-size="25.2" fill="#000" textLength="50.5" lengthAdjust="spacing">1.17</text>
<text x="709" y="1274.5" font-size="25.2" fill="#000" textLength="76.5" lengthAdjust="spacing">usdjpy</text>
<text x="848.1" y="1274.5" font-size="25.2" fill="#000" textLength="94" lengthAdjust="spacing">114.805</text>
<text x="1104" y="1274.5" font-size="25.2" fill="#000" textLength="94" lengthAdjust="spacing">114.898</text>
<text x="1252.4" y="1274.5" font-size="25.2" fill="#000" textLength="137.2" lengthAdjust="spacing">01.18 05:34</text>
<text x="1451.5" y="1274.5" font-size="25.2" fill="#000" textLength="94" lengthAdjust="spacing">114.898</text>
<text x="1960" y="1274.5" font-size="25.2" fill="#1672d6" textLength="79.5" lengthAdjust="spacing">10 881</text>
<text x="13.8" y="1334.5" font-size="25.2" fill="#000" textLength="137.2" lengthAdjust="spacing">01.20 17:49</text>
<text x="256.3" y="1334.5" font-size="25.2" fill="#000" textLength="101.5" lengthAdjust="spacing">3066942</text>
<text x="428" y="1334.5" font-size="25.2" fill="#1672d6" textLength="41.5" lengthAdjust="spacing">buy</text>
<text x="607.6" y="1334.5" font-size="25.2" fill="#000" textLength="50.5" lengthAdjust="spacing">1.19</text>
<text x="709" y="1334.5" font-size="25.2" fill="#000" textLength="76.5" lengthAdjust="spacing">usdjpy</text>
<text x="848.1" y="1334.5" font-size="25.2" fill="#000" textLength="94" lengthAdjust="spacing">114.000</text>
<text x="1104" y="1334.5" font-size="25.2" fill="#000" textLength="94" lengthAdjust="spacing">114.100</text>
<text x="1252.4" y="1334.5" font-size="25.2" fill="#000" textLength="137.2" lengthAdjust="spacing">01.20 19:01</text>
<text x="1451.5" y="1334.5" font-size="25.2" fill="#000" textLength="94" lengthAdjust="spacing">114.100</text>
<text x="1960" y="1334.5" font-size="25.2" fill="#1672d6" textLength="79.5" lengthAdjust="spacing">11 900</text>
<text x="13.8" y="1394.5" font-size="25.2" fill="#000" textLength="137.2" lengthAdjust="spacing">01.20 19:01</text>
<text x="256.3" y="1394.5" font-size="25.2" fill="#000" textLength="101.5" lengthAdjust="spacing">3067113</text>
<text x="428" y="1394.5" font-size="25.2" fill="#1672d6" textLength="41.5" lengthAdjust="spacing">buy</text>
<text x="607.6" y="1394.5" font-size="25.2" fill="#000" textLength="50.5" lengthAdjust="spacing">1.19</text>
<text x="709" y="1394.5" font-size="25.2" fill="#000" textLength="76.5" lengthAdjust="spacing">usdjpy</text>
<text x="848.1" y="1394.5" font-size="25.2" fill="#000" textLength="94" lengthAdjust="spacing">114.102</text>
<text x="1104" y="1394.5" font-size="25.2" fill="#000" textLength="94" lengthAdjust="spacing">114.200</text>
<text x="1252.4" y="1394.5" font-size="25.2" fill="#000" textLength="137.2" lengthAdjust="spacing">01.20 22:58</text>
<text x="1451.5" y="1394.5" font-size="25.2" fill="#000" textLength="94" lengthAdjust="spacing">114.200</text>
<text x="1960" y="1394.5" font-size="25.2" fill="#1672d6" textLength="79.5" lengthAdjust="spacing">11 662</text>
<text class="j" x="443" y="1512.5" font-size="21.5" fill="#666666" textLength="65" lengthAdjust="spacing">気配値</text>
<text class="j" x="570" y="1512.5" font-size="21.5" fill="#666666" textLength="84" lengthAdjust="spacing">チャート</text>
<text class="j" x="712" y="1512.5" font-size="21.5" fill="#666666" textLength="82" lengthAdjust="spacing">トレード</text>
<text class="j" x="865" y="1512.5" font-size="21.5" fill="#1a7fe8" textLength="43.5" lengthAdjust="spacing">履歴</text>
<text class="j" x="982" y="1512.5" font-size="21.5" fill="#666666" textLength="86" lengthAdjust="spacing">ニュース</text>
<text class="j" x="1106" y="1512.5" font-size="21.5" fill="#666666" textLength="108" lengthAdjust="spacing">受信トレイ</text>
<text class="j" x="1258" y="1512.5" font-size="21.5" fill="#666666" textLength="84" lengthAdjust="spacing">チャット</text>
<text class="j" x="1413.5" y="1512.5" font-size="21.5" fill="#666666" textLength="43.5" lengthAdjust="spacing">口座</text>
<text class="j" x="1550.5" y="1512.5" font-size="21.5" fill="#666666" textLength="43.5" lengthAdjust="spacing">設定</text>
<g stroke="#6f6f6f" stroke-width="3.9" fill="none" stroke-linecap="round" stroke-linejoin="round"><path d="M466 1451.6V1473M457.3 1465.1L466 1473.8L474.7 1465.1M486 1465V1443.5M477.4 1451L486 1442.4L494.6 1451"/></g>
<g fill="#6f6f6f"><rect x="603.1" y="1440.5" width="3.9" height="35.1"/><rect x="599.1" y="1452.2" width="11.4" height="17.6"/><rect x="619.3" y="1440.5" width="3.9" height="31.1"/><rect x="615.4" y="1446.1" width="11.5" height="19.7"/></g>
<rect x="619.3" y="1450" width="3.9" height="11.9" fill="#fff"/>
<g stroke="#6f6f6f" stroke-width="3.9" fill="none"><rect x="731.95" y="1440.15" width="35.7" height="35.6" rx="2.6"/><path d="M737.5 1465.9L746.7 1456.9L753.8 1463L762.8 1449.8" stroke-linecap="round" stroke-linejoin="round"/></g>
<g stroke="#1a7fe8" stroke-width="3.9" fill="none"><path d="M869.8 1455.5A17.8 17.8 0 1 1 874.6 1470.4"/><path d="M887.5 1448.5V1458.6L894.6 1465.9" /></g>
<path d="M863.3 1454.6H878L870.6 1462.2z" fill="#1a7fe8"/>
<g stroke="#6f6f6f" stroke-width="3.9" fill="none"><rect x="1006.35" y="1442.45" width="27.7" height="31.6" rx="2.4"/><path d="M1034 1448.3H1041.95V1474.05H1034"/></g>
<g fill="#6f6f6f"><rect x="1012.3" y="1448.7" width="15.8" height="3.5"/><rect x="1012.3" y="1456.6" width="15.8" height="3.5"/><rect x="1012.3" y="1464.6" width="15.8" height="3.5"/></g>
<g stroke="#6f6f6f" stroke-width="4.1" fill="none"><circle cx="1160.6" cy="1458" r="7.6"/><path d="M1172 1472.1A17.85 17.85 0 1 1 1178.8 1458C1178.8 1464 1176.5 1467.3 1173.5 1467.3S1168.3 1464.5 1168.3 1461V1450.2"/></g>
<path d="M1284.8 1445.95H1311a2.95 2.95 0 0 1 2.95 2.95V1465.4a2.95 2.95 0 0 1-2.95 2.95H1309.5V1474.5L1298.5 1468.35H1284.8a2.95 2.95 0 0 1-2.95-2.95V1448.9a2.95 2.95 0 0 1 2.95-2.95z" stroke="#6f6f6f" stroke-width="3.9" fill="none" stroke-linejoin="miter"/>
<g stroke="#6f6f6f" stroke-width="3.9" fill="none"><circle cx="1435" cy="1458" r="17.85"/><circle cx="1434.9" cy="1454" r="5.5"/><path d="M1422.6 1470.8A13.5 9.5 0 0 1 1447.4 1470.8"/></g>
<path d="M1566.8 1440.9L1577.2 1440.9L1577.4 1445.9L1579.8 1447.3L1584.2 1444.9L1589.4 1454L1585.1 1456.6L1585.1 1459.4L1589.4 1462L1584.2 1471.1L1579.8 1468.7L1577.4 1470.1L1577.2 1475.1L1566.8 1475.1L1566.6 1470.1L1564.2 1468.7L1559.8 1471.1L1554.6 1462L1558.9 1459.4L1558.9 1456.6L1554.6 1454L1559.8 1444.9L1564.2 1447.3L1566.6 1445.9z" stroke="#6f6f6f" stroke-width="3.9" fill="none" stroke-linejoin="round"/>
<circle cx="1572" cy="1458" r="6.4" stroke="#6f6f6f" stroke-width="3.9" fill="none"/>
<circle cx="2007.7" cy="1462.4" r="4.1" fill="#6f6f6f"/>
<circle cx="2007.7" cy="1475.7" r="4.1" fill="#6f6f6f"/>
<circle cx="2007.7" cy="1489.2" r="4.1" fill="#6f6f6f"/>
</svg></body></html>
